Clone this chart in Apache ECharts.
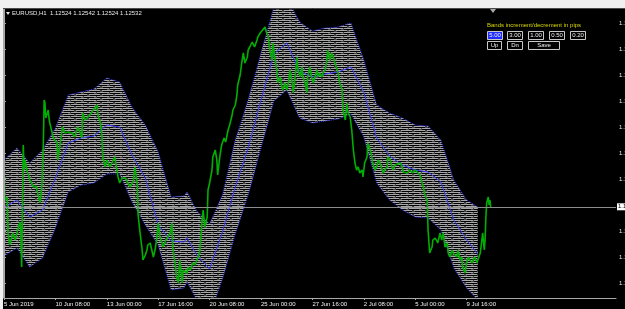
<!DOCTYPE html>
<html><head><meta charset="utf-8">
<script src="https://cdn.jsdelivr.net/npm/echarts@6/dist/echarts.min.js"></script>
<style>html,body{margin:0;padding:0;background:#000;}#c{width:625px;height:309px;}</style>
</head><body><div id="c"></div>
<script>
// ---- axis ticks ----
const tickBars = [0,64,128,192,256,320,384,448,512,576];
const tickLabels = ['5 Jun 2019','10 Jun 08:00','13 Jun 00:00','17 Jun 16:00','20 Jun 08:00','25 Jun 00:00','27 Jun 16:00','2 Jul 08:00','5 Jul 00:00','9 Jul 16:00'];
const yTicks = [1.1437,1.1411,1.1385,1.1359,1.1333,1.1307,1.1281,1.1229,1.1203,1.1177];
const lastPrice = 1.12532;
const infoText = 'EURUSD,H1  1.12524 1.12542 1.12524 1.12532';
const panelTitle = 'Bands increment/decrement in pips';
const stepButtons = ['5.00','3.00','1.00','0.50','0.20'];
const actionButtons = ['Up','Dn','Save'];

// ---- bands (bar index -> price) ----
const bandBars = [0,16,32,48,64,80,96,112,128,144,160,176,192,208,224,228,240,256,272,288,304,320,336,352,368,384,400,416,432,448,464,480,496,512,528,544,560,576,590];
const upperBand = [1.1300,1.1312,1.1297,1.1310,1.1332,1.1365,1.1368,1.1371,1.1382,1.1378,1.1352,1.1335,1.1308,1.1263,1.1264,1.1268,1.1249,1.1236,1.1265,1.1320,1.1360,1.1407,1.1453,1.1463,1.1438,1.1429,1.1432,1.1433,1.1437,1.1400,1.1355,1.1347,1.1342,1.1335,1.1334,1.1320,1.1280,1.1260,1.1253];
const midBand = [1.1252,1.1260,1.1243,1.1250,1.1282,1.1317,1.1322,1.1324,1.1335,1.1333,1.1304,1.1282,1.1235,1.1219,1.1218,1.1222,1.1205,1.1191,1.1228,1.1273,1.1312,1.1360,1.1406,1.1417,1.1389,1.1383,1.1386,1.1388,1.1393,1.1368,1.1322,1.1304,1.1295,1.1290,1.1288,1.1278,1.1240,1.1220,1.1206];
const lowerBand = [1.1204,1.1212,1.1193,1.1202,1.1232,1.1268,1.1275,1.1277,1.1286,1.1286,1.1257,1.1235,1.1215,1.1170,1.1172,1.1178,1.1160,1.1144,1.1181,1.1226,1.1265,1.1312,1.1359,1.1370,1.1342,1.1337,1.1339,1.1341,1.1346,1.1323,1.1277,1.1260,1.1250,1.1243,1.1242,1.1230,1.1192,1.1172,1.1160];

// ---- price path [bar, price] ----
const priceA = [[0,1.1300],[1,1.1260],[4,1.1263],[5,1.1227],[7,1.1215],[10,1.1223],[11,1.1227],[14,1.1220],[16,1.1222],[17,1.1230],[20,1.1238],[21,1.1228],[22,1.1193],[24,1.1315],[25,1.1290],[26,1.1300],[29,1.1288],[31,1.1284],[32,1.1280],[35,1.1276],[37,1.1273],[40,1.1274],[41,1.1270],[42,1.1267],[45,1.1257],[46,1.1265],[47,1.1273],[49,1.1317],[50,1.1360],[51,1.1357],[52,1.1342],[54,1.1347],[55,1.1350],[56,1.1342],[57,1.1337],[60,1.1327],[61,1.1323],[63,1.1320],[66,1.1317],[67,1.1300],[70,1.1317]];
const priceB = [[72,1.1328],[73,1.1333],[76,1.1327],[78,1.1325],[80,1.1328],[82,1.1330],[85,1.1327],[88,1.1323],[92,1.1333],[95,1.1327],[97,1.1322],[98,1.1347],[101,1.1340],[103,1.1342],[107,1.1345],[111,1.1350],[113,1.1352],[116,1.1355],[117,1.1345],[120,1.1337],[122,1.1323],[123,1.1303],[126,1.1293],[128,1.1300],[132,1.1293],[136,1.1300],[138,1.1303],[142,1.1283],[144,1.1277],[147,1.1282],[148,1.1280],[151,1.1282],[153,1.1280],[157,1.1273],[161,1.1279],[163,1.1293],[166,1.1275],[167,1.1245],[169,1.1230]];
const priceC = [[172,1.1210],[173,1.1200],[176,1.1205],[178,1.1210],[179,1.1215],[182,1.1217],[184,1.1210],[186,1.1203],[188,1.1210],[190,1.1220],[192,1.1237],[194,1.1223],[197,1.1217],[198,1.1213],[200,1.1217],[203,1.1222],[207,1.1227],[209,1.1237],[210,1.1213],[213,1.1197],[215,1.1183],[217,1.1177],[219,1.1200],[222,1.1177],[223,1.1190],[225,1.1188],[228,1.1187],[229,1.1193],[232,1.1190],[234,1.1190],[235,1.1197],[238,1.1195],[240,1.1200],[242,1.1203],[244,1.1210]];
const priceD = [[247,1.1243],[248,1.1250],[250,1.1233],[253,1.1243],[254,1.1270],[256,1.1277],[259,1.1290],[260,1.1303],[263,1.1310],[265,1.1300],[266,1.1285],[269,1.1305],[271,1.1315],[274,1.1322],[276,1.1318],[279,1.1330],[281,1.1335],[284,1.1345],[285,1.1350],[288,1.1355],[290,1.1365],[291,1.1375],[294,1.1385],[296,1.1397],[298,1.1407],[300,1.1397],[303,1.1403],[304,1.1410],[306,1.1413],[309,1.1418],[310,1.1417],[312,1.1413],[315,1.1420],[316,1.1423],[319,1.1427],[321,1.1428],[322,1.1430],[325,1.1433],[327,1.1427],[329,1.1423],[331,1.1410]];
const priceE = [[334,1.1400],[335,1.1417],[337,1.1403],[340,1.1387],[341,1.1377],[344,1.1383],[346,1.1373],[347,1.1370],[350,1.1377],[352,1.1370],[354,1.1377],[356,1.1390],[359,1.1377],[360,1.1367],[362,1.1380],[365,1.1403],[366,1.1390],[369,1.1383],[371,1.1393],[372,1.1383],[375,1.1377],[377,1.1367],[378,1.1383],[381,1.1393],[383,1.1383],[385,1.1377],[387,1.1383],[390,1.1390],[391,1.1383],[393,1.1387],[396,1.1383],[397,1.1387],[400,1.1390],[402,1.1400],[403,1.1410],[406,1.1400],[408,1.1407],[410,1.1403],[412,1.1397],[415,1.1390],[416,1.1387],[418,1.1377],[421,1.1370],[422,1.1350],[425,1.1340],[427,1.1357],[428,1.1348],[431,1.1343],[433,1.1330],[435,1.1310],[437,1.1297]];
const priceF = [[439,1.1290],[441,1.1293],[443,1.1287],[446,1.1290],[447,1.1283],[449,1.1297],[452,1.1303],[453,1.1317],[456,1.1310],[458,1.1303],[459,1.1297],[462,1.1290],[464,1.1293],[466,1.1300],[468,1.1297],[471,1.1290],[472,1.1287],[474,1.1290],[477,1.1293],[478,1.1303],[481,1.1300],[483,1.1293],[484,1.1290],[487,1.1295],[489,1.1297],[493,1.1297],[496,1.1293],[497,1.1288],[499,1.1290],[502,1.1287],[505,1.1290],[509,1.1287],[512,1.1290],[514,1.1288],[518,1.1285],[520,1.1283],[522,1.1273],[524,1.1265],[527,1.1260],[528,1.1230],[530,1.1207]];
const priceG = [[533,1.1213],[534,1.1220],[537,1.1222],[539,1.1223],[540,1.1217],[543,1.1227],[545,1.1220],[547,1.1227],[549,1.1213],[552,1.1217],[553,1.1207],[555,1.1203],[558,1.1210],[559,1.1207],[561,1.1205],[564,1.1203],[565,1.1210],[568,1.1200],[570,1.1203],[571,1.1193],[574,1.1187],[576,1.1197],[578,1.1203],[580,1.1200],[583,1.1197],[584,1.1200],[586,1.1203],[589,1.1197],[590,1.1200],[593,1.1207],[595,1.1220],[596,1.1227],[598,1.1210],[599,1.1220],[600,1.1243],[601,1.1257],[603,1.1263],[604,1.1255],[605,1.1260],[606,1.1253]];

// ---- rendering ----
const X_MAX = 762;
const pairs = (xs, ys) => xs.map((x, i) => [x, ys[i]]);
const priceData = [].concat(priceA, priceB, priceC, priceD, priceE, priceF, priceG);

// band hatch texture: broken horizontal strokes, offset gaps so no vertical stripes appear
const pc = document.createElement('canvas');
pc.width = 13; pc.height = 4;
const g = pc.getContext('2d');
g.fillStyle = '#000'; g.fillRect(0, 0, 13, 4);
g.fillStyle = '#a8a8a8';
g.fillRect(0, 0, 5, 1); g.fillRect(6, 0, 7, 1);
g.fillRect(0, 2, 9, 1); g.fillRect(11, 2, 2, 1);
g.fillStyle = '#454545';
g.fillRect(5, 0, 1, 1); g.fillRect(9, 2, 2, 1);
g.fillRect(3, 1, 3, 1); g.fillRect(9, 3, 3, 1);

const FONT = 'Liberation Sans';
const chart = echarts.init(document.getElementById('c'), null, {renderer: 'canvas'});

const btnGraphics = [];
const stepX = [487, 507, 528, 549, 570];
stepButtons.forEach((t, i) => {
  btnGraphics.push({type: 'rect', shape: {x: stepX[i] + 0.5, y: 31.5, width: 15, height: 8},
    style: {fill: i === 0 ? '#1f2bff' : '#000', stroke: '#c8c8c8', lineWidth: 1}, z: 20});
  btnGraphics.push({type: 'text', x: stepX[i] + 8, y: 35.5,
    style: {text: t, fill: '#f0f0f0', font: '6px ' + FONT, textAlign: 'center', textVerticalAlign: 'middle'}, z: 21});
});
const actX = [487, 507, 528], actW = [14, 15, 31];
actionButtons.forEach((t, i) => {
  btnGraphics.push({type: 'rect', shape: {x: actX[i] + 0.5, y: 41.5, width: actW[i], height: 8},
    style: {fill: '#000', stroke: '#c8c8c8', lineWidth: 1}, z: 20});
  btnGraphics.push({type: 'text', x: actX[i] + actW[i] / 2 + 0.5, y: 45.5,
    style: {text: t, fill: '#f0f0f0', font: '6px ' + FONT, textAlign: 'center', textVerticalAlign: 'middle'}, z: 21});
});

chart.setOption({
  backgroundColor: '#000',
  animation: false,
  grid: {left: 4, right: 9, top: 9, bottom: 11, containLabel: false, outerBoundsMode: 'none'},
  xAxis: {
    type: 'value', min: 0, max: X_MAX, z: 10,
    axisLine: {show: true, lineStyle: {color: '#a8a8a8', width: 1}},
    axisTick: {show: true, customValues: tickBars, length: 2, lineStyle: {color: '#a8a8a8'}},
    axisLabel: {customValues: tickBars, formatter: v => { const k = tickBars.indexOf(v); return k >= 0 ? tickLabels[k] : ''; },
      color: '#f0f0f0', fontSize: 6, fontFamily: FONT, align: 'left', margin: 3},
    splitLine: {show: false}
  },
  yAxis: {
    type: 'value', position: 'right', min: 1.1162, max: 1.1451, z: 10,
    axisLine: {show: true, lineStyle: {color: '#a8a8a8', width: 1}},
    axisTick: {show: true, customValues: yTicks, length: 2, lineStyle: {color: '#a8a8a8'}},
    axisLabel: {customValues: yTicks, formatter: v => v.toFixed(5), color: '#e8e8e8', fontSize: 6, fontFamily: FONT, margin: 3},
    splitLine: {show: false}
  },
  series: [
    {type: 'line', name: 'upper', data: pairs(bandBars, upperBand), symbol: 'none', z: 1, silent: true,
      lineStyle: {color: '#3535ff', width: 1, type: 'dotted'},
      areaStyle: {color: {image: pc, repeat: 'repeat'}, origin: 'start', opacity: 1}},
    {type: 'line', name: 'lower', data: pairs(bandBars, lowerBand), symbol: 'none', z: 2, silent: true,
      lineStyle: {color: '#3535ff', width: 1, type: 'dotted'},
      areaStyle: {color: '#000', origin: 'start', opacity: 1}},
    {type: 'line', name: 'middle', data: pairs(bandBars, midBand), symbol: 'none', z: 3, silent: true,
      lineStyle: {color: '#3a3aff', width: 1}},
    {type: 'line', name: 'EURUSD', data: priceData, symbol: 'none', z: 4, silent: true,
      lineStyle: {color: '#00b000', width: 1.6},
      markLine: {silent: true, symbol: ['none', 'none'], animation: false,
        lineStyle: {color: '#8c8c8c', width: 1, type: 'solid'},
        label: {show: true, position: 'end', formatter: lastPrice.toFixed(5), backgroundColor: '#ffffff',
          color: '#000', fontSize: 6, fontFamily: FONT, padding: [1, 1, 0, 1], distance: 1},
        data: [[{coord: [0, lastPrice]}, {coord: [X_MAX, lastPrice]}]]}}
  ],
  graphic: [
    {type: 'rect', shape: {x: 0, y: 0, width: 625, height: 8}, style: {fill: '#f0f0f0'}, z: 30},
    {type: 'line', shape: {x1: 0, y1: 8.5, x2: 625, y2: 8.5}, style: {stroke: '#4a4a4a', lineWidth: 1}, z: 30},
    {type: 'rect', shape: {x: 0, y: 0, width: 3, height: 309}, style: {fill: '#f0f0f0'}, z: 30},
    {type: 'line', shape: {x1: 3.5, y1: 9, x2: 3.5, y2: 298}, style: {stroke: '#a8a8a8', lineWidth: 1}, z: 30},
    {type: 'polygon', shape: {points: [[6, 12], [10, 12], [8, 15]]}, style: {fill: '#e8e8e8'}, z: 30},
    {type: 'text', x: 12, y: 13.5, style: {text: infoText, fill: '#e8e8e8', font: '6px ' + FONT, textVerticalAlign: 'middle'}, z: 30},
    {type: 'polygon', shape: {points: [[490, 9], [496, 9], [493, 13]]}, style: {fill: '#a8a8a8'}, z: 30},
    {type: 'text', x: 487, y: 25, style: {text: panelTitle, fill: '#d6d600', font: '6px ' + FONT, textVerticalAlign: 'middle'}, z: 30}
  ].concat(btnGraphics)
});
</script></body></html>
